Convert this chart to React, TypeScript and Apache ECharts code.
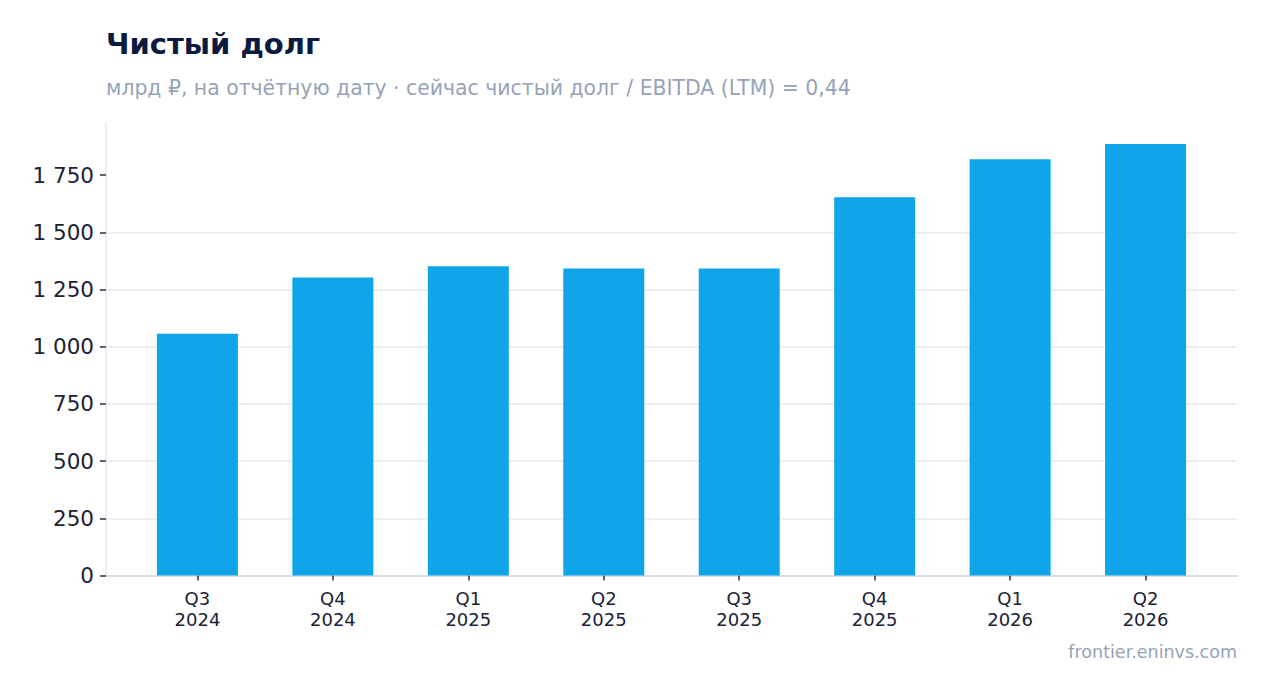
import React, { useEffect, useRef } from "react";
import * as echarts from "echarts";

const categories = ["Q3\n2024", "Q4\n2024", "Q1\n2025", "Q2\n2025", "Q3\n2025", "Q4\n2025", "Q1\n2026", "Q2\n2026"];
const netDebt = [1057, 1303, 1352, 1342, 1342, 1653, 1820, 1886];
const yTicks = [0, 250, 500, 750, 1000, 1250, 1500, 1750];

const titleText = "Чистый долг";
const subtitleText = "млрд ₽, на отчётную дату · сейчас чистый долг / EBITDA (LTM) = 0,44";
const footerText = "frontier.eninvs.com";

const FONT = "DejaVu Sans";

function fmt(v: number): string {
  return String(Math.round(v)).replace(/\B(?=(\d{3})+(?!\d))/g, " ");
}

export default function App() {
  const ref = useRef<HTMLDivElement>(null);
  useEffect(() => {
    if (!ref.current) return;
    const chart = echarts.init(ref.current, undefined, { renderer: "svg" });
    const yMax = Math.max(...netDebt) * 1.05;
    const xIdx = categories.map((_, i) => i);
    const pad = 0.675;
    chart.setOption({
      animation: false,
      backgroundColor: "#ffffff",
      textStyle: { fontFamily: FONT },
      grid: { left: 106, right: 31, top: 122.5, bottom: 117.5, containLabel: false },
      xAxis: {
        type: "value",
        min: -pad,
        max: categories.length - 1 + pad,
        axisLine: { show: true, onZero: false, lineStyle: { color: "#d5d9e2", width: 1.5 } },
        axisTick: { show: true, length: 5, customValues: xIdx, lineStyle: { color: "#2a3142", width: 1.5 } },
        axisLabel: {
          color: "#1a2236",
          fontSize: 18,
          lineHeight: 21,
          margin: 12,
          fontFamily: FONT,
          customValues: xIdx,
          formatter: (v: number) => categories[Math.round(v)] ?? "",
        },
        splitLine: { show: false },
      },
      yAxis: {
        type: "value",
        min: 0,
        max: yMax,
        interval: 250,
        axisLine: { show: true, onZero: false, lineStyle: { color: "#e3e7ee", width: 1.5 } },
        axisTick: { show: true, length: 6, lineStyle: { color: "#2a3142", width: 1.5 }, customValues: yTicks },
        axisLabel: {
          color: "#1a2236",
          fontSize: 21.5,
          margin: 12,
          fontFamily: FONT,
          customValues: yTicks,
          formatter: (v: number) => fmt(v),
        },
        splitLine: { show: true, showMaxLine: false, lineStyle: { color: "#e5e8ef", width: 1.5 } },
      },
      series: [
        {
          type: "bar",
          data: netDebt.map((v, i) => [i, v]),
          barWidth: 81,
          itemStyle: { color: "#10a5e8" },
        },
      ],
      graphic: [
        {
          type: "text",
          left: 106,
          top: 29,
          style: { text: titleText, font: `bold 29px "${FONT}"`, fill: "#0b1a3f" },
        },
        {
          type: "text",
          left: 106,
          top: 78,
          style: { text: subtitleText, font: `20.4px "${FONT}"`, fill: "#94a3b8" },
        },
        {
          type: "text",
          right: 31,
          top: 643,
          style: { text: footerText, font: `17.5px "${FONT}"`, fill: "#94a3b8" },
        },
      ],
    });
    return () => chart.dispose();
  }, []);
  return <div ref={ref} style={{ width: 1268, height: 693, margin: -8 }} />;
}
